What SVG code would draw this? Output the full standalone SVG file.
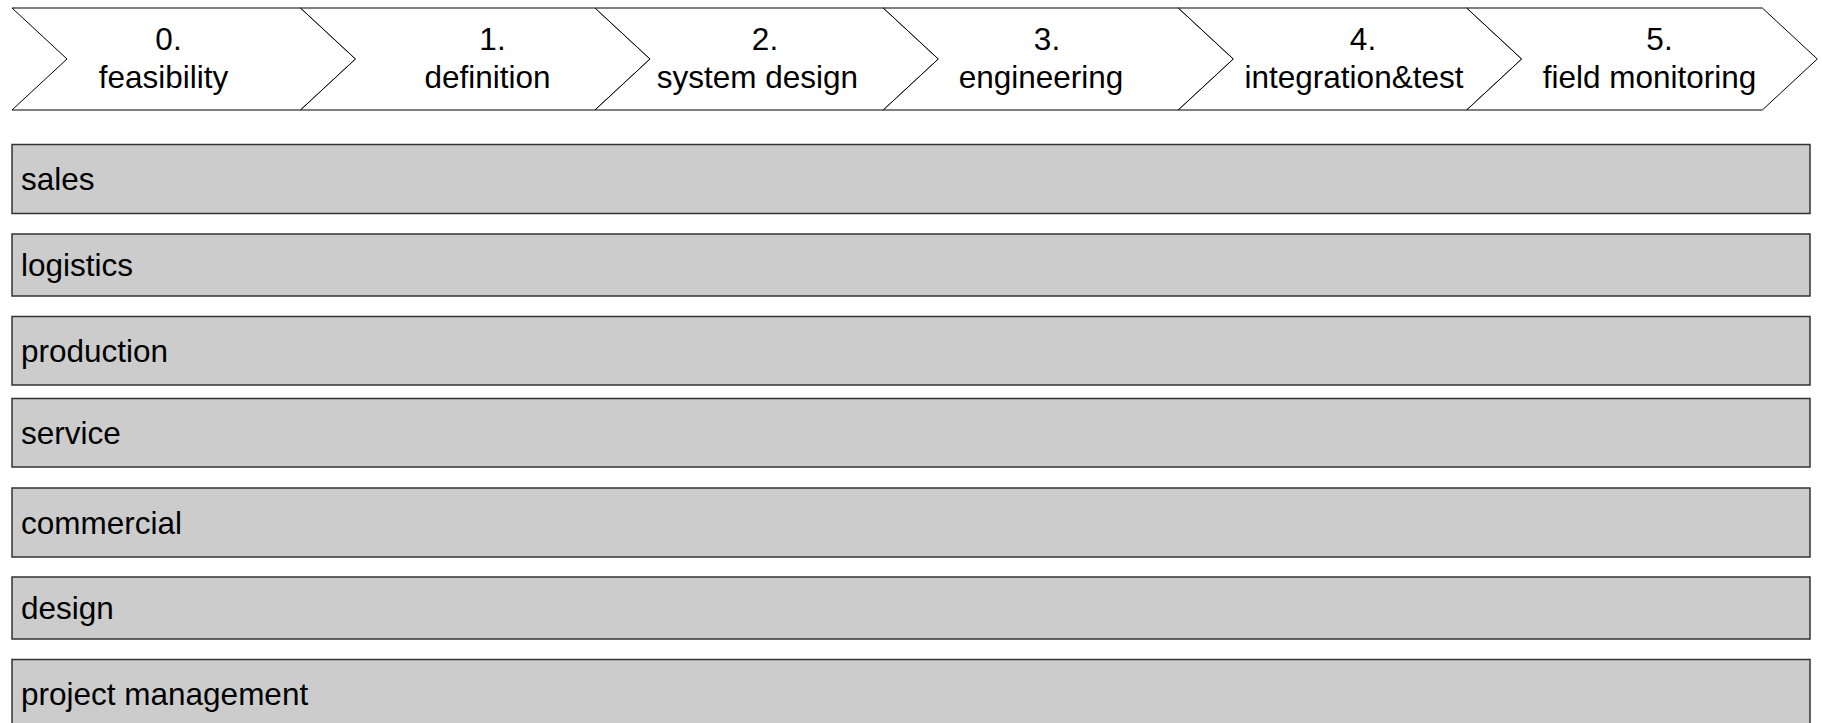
<svg xmlns="http://www.w3.org/2000/svg" width="1822" height="723" viewBox="0 0 1822 723">
<style>
.chev{fill:#ffffff;stroke:#000000;stroke-width:1;}
.lane{fill:#cccccc;stroke:#333333;stroke-width:1.5;}
.t{font-family:"Liberation Sans",Arial,sans-serif;font-size:31.5px;fill:#000000;}
.c{text-anchor:middle;}
</style>
<rect x="0" y="0" width="1822" height="723" fill="#ffffff"/>
<g id="phases">
<g id="phase0">
<polygon class="chev" points="12,8 300.5,8 355.5,59 300.5,110 12,110 67,59"/>
<text class="t c" x="168.5" y="49.5">0.</text>
<text class="t c" x="163.5" y="87.5">feasibility</text>
</g>
<g id="phase1">
<polygon class="chev" points="300.5,8 595,8 650,59 595,110 300.5,110 355.5,59"/>
<text class="t c" x="492.5" y="49.5">1.</text>
<text class="t c" x="487.5" y="87.5">definition</text>
</g>
<g id="phase2">
<polygon class="chev" points="595,8 883.3,8 938.3,59 883.3,110 595,110 650,59"/>
<text class="t c" x="765" y="49.5">2.</text>
<text class="t c" x="757.3" y="87.5">system design</text>
</g>
<g id="phase3">
<polygon class="chev" points="883.3,8 1178.3,8 1233.3,59 1178.3,110 883.3,110 938.3,59"/>
<text class="t c" x="1047" y="49.5">3.</text>
<text class="t c" x="1041" y="87.5">engineering</text>
</g>
<g id="phase4">
<polygon class="chev" points="1178.3,8 1466.7,8 1521.7,59 1466.7,110 1178.3,110 1233.3,59"/>
<text class="t c" x="1363" y="49.5">4.</text>
<text class="t c" x="1354" y="87.5">integration&amp;test</text>
</g>
<g id="phase5">
<polygon class="chev" points="1466.7,8 1762.3,8 1817.3,59 1762.3,110 1466.7,110 1521.7,59"/>
<text class="t c" x="1659.5" y="49.5">5.</text>
<text class="t c" x="1649.5" y="87.5">field monitoring</text>
</g>
</g>
<g id="lanes">
<g id="lane-sales">
<rect class="lane" x="12" y="144.5" width="1798" height="69"/>
<text class="t" x="21" y="190">sales</text>
</g>
<g id="lane-logistics">
<rect class="lane" x="12" y="234" width="1798" height="62"/>
<text class="t" x="21" y="276">logistics</text>
</g>
<g id="lane-production">
<rect class="lane" x="12" y="316.5" width="1798" height="68.5"/>
<text class="t" x="21" y="361.5">production</text>
</g>
<g id="lane-service">
<rect class="lane" x="12" y="398.5" width="1798" height="68.5"/>
<text class="t" x="21" y="443.5">service</text>
</g>
<g id="lane-commercial">
<rect class="lane" x="12" y="488" width="1798" height="69"/>
<text class="t" x="21" y="533.5">commercial</text>
</g>
<g id="lane-design">
<rect class="lane" x="12" y="577" width="1798" height="62"/>
<text class="t" x="21" y="619">design</text>
</g>
<g id="lane-pm">
<rect class="lane" x="12" y="659.5" width="1798" height="69"/>
<text class="t" x="21" y="705">project management</text>
</g>
</g>
<g id="connectors"></g>
</svg>
